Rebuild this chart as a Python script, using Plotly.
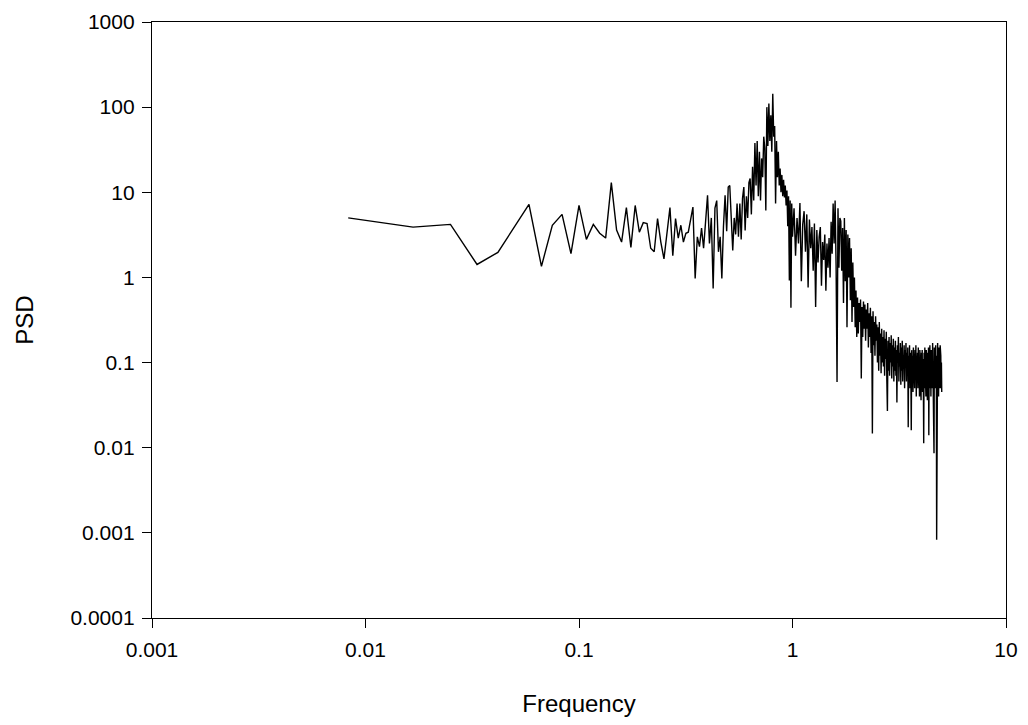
import plotly.graph_objects as go

# Frequency grid, 0.0083 .. 1.0 (step 1/120)
freq_low = [
    0.0083, 0.0167, 0.025, 0.0333, 0.0417, 0.05, 0.0583, 0.0667, 0.075, 0.0833, 0.0917, 0.1,
    0.1083, 0.1167, 0.125, 0.1333, 0.1417, 0.15, 0.1583, 0.1667, 0.175, 0.1833, 0.1917, 0.2,
    0.2083, 0.2167, 0.225, 0.2333, 0.2417, 0.25, 0.2583, 0.2667, 0.275, 0.2833, 0.2917, 0.3,
    0.3083, 0.3167, 0.325, 0.3333, 0.3417, 0.35, 0.3583, 0.3667, 0.375, 0.3833, 0.3917, 0.4,
    0.4083, 0.4167, 0.425, 0.4333, 0.4417, 0.45, 0.4583, 0.4667, 0.475, 0.4833, 0.4917, 0.5,
    0.5083, 0.5167, 0.525, 0.5333, 0.5417, 0.55, 0.5583, 0.5667, 0.575, 0.5833, 0.5917, 0.6,
    0.6083, 0.6167, 0.625, 0.6333, 0.6417, 0.65, 0.6583, 0.6667, 0.675, 0.6833, 0.6917, 0.7,
    0.7083, 0.7167, 0.725, 0.7333, 0.7417, 0.75, 0.7583, 0.7667, 0.775, 0.7833, 0.7917, 0.8,
    0.8083, 0.8167, 0.825, 0.8333, 0.8417, 0.85, 0.8583, 0.8667, 0.875, 0.8833, 0.8917, 0.9,
    0.9083, 0.9167, 0.925, 0.9333, 0.9417, 0.95, 0.9583, 0.9667, 0.975, 0.9833, 0.9917, 1.0,
]
psd_low = [
    5.0, 3.9, 4.2, 1.42, 1.97, 3.9, 7.2, 1.35, 4.1, 5.5, 1.9, 7.0,
    2.8, 4.2, 3.3, 2.9, 13.0, 3.6, 2.6, 6.6, 2.25, 7.0, 3.4, 4.4,
    4.3, 2.2, 2.0, 4.9, 2.6, 1.65, 3.5, 6.6, 1.8, 4.9, 2.9, 4.1,
    2.6, 3.3, 3.4, 5.0, 6.7, 0.97, 3.0, 2.3, 3.8, 2.2, 4.5, 9.2,
    2.5, 5.0, 0.74, 6.5, 8.0, 2.0, 3.0, 0.97, 4.0, 9.2, 3.5, 11.5,
    12.0, 4.0, 2.07, 5.0, 3.2, 7.4, 3.0, 7.4, 2.8, 8.5, 11.5, 3.56,
    9.0, 5.0, 13.0, 14.5, 5.5, 20.0, 8.0, 38.0, 12.0, 40.0, 9.0, 30.0,
    8.0, 25.0, 15.0, 45.0, 33.0, 6.1, 100.0, 35.0, 110.0, 40.0, 80.0, 30.0,
    144.0, 45.0, 60.0, 7.4, 40.0, 15.0, 30.0, 12.0, 19.0, 10.0, 16.0, 9.0,
    14.0, 8.7, 12.0, 7.0, 10.5, 4.0, 9.0, 0.92, 8.0, 0.44, 7.4, 3.0,
]

# Frequency grid, 1.0167 .. 5.0 (step 1/60)
freq_high = [
    1.0167, 1.0333, 1.05, 1.0667, 1.0833, 1.1, 1.1167, 1.1333, 1.15, 1.1667, 1.1833, 1.2,
    1.2167, 1.2333, 1.25, 1.2667, 1.2833, 1.3, 1.3167, 1.3333, 1.35, 1.3667, 1.3833, 1.4,
    1.4167, 1.4333, 1.45, 1.4667, 1.4833, 1.5, 1.5167, 1.5333, 1.55, 1.5667, 1.5833, 1.6,
    1.6167, 1.6333, 1.65, 1.6667, 1.6833, 1.7, 1.7167, 1.7333, 1.75, 1.7667, 1.7833, 1.8,
    1.8167, 1.8333, 1.85, 1.8667, 1.8833, 1.9, 1.9167, 1.9333, 1.95, 1.9667, 1.9833, 2.0,
    2.0167, 2.0333, 2.05, 2.0667, 2.0833, 2.1, 2.1167, 2.1333, 2.15, 2.1667, 2.1833, 2.2,
    2.2167, 2.2333, 2.25, 2.2667, 2.2833, 2.3, 2.3167, 2.3333, 2.35, 2.3667, 2.3833, 2.4,
    2.4167, 2.4333, 2.45, 2.4667, 2.4833, 2.5, 2.5167, 2.5333, 2.55, 2.5667, 2.5833, 2.6,
    2.6167, 2.6333, 2.65, 2.6667, 2.6833, 2.7, 2.7167, 2.7333, 2.75, 2.7667, 2.7833, 2.8,
    2.8167, 2.8333, 2.85, 2.8667, 2.8833, 2.9, 2.9167, 2.9333, 2.95, 2.9667, 2.9833, 3.0,
    3.0167, 3.0333, 3.05, 3.0667, 3.0833, 3.1, 3.1167, 3.1333, 3.15, 3.1667, 3.1833, 3.2,
    3.2167, 3.2333, 3.25, 3.2667, 3.2833, 3.3, 3.3167, 3.3333, 3.35, 3.3667, 3.3833, 3.4,
    3.4167, 3.4333, 3.45, 3.4667, 3.4833, 3.5, 3.5167, 3.5333, 3.55, 3.5667, 3.5833, 3.6,
    3.6167, 3.6333, 3.65, 3.6667, 3.6833, 3.7, 3.7167, 3.7333, 3.75, 3.7667, 3.7833, 3.8,
    3.8167, 3.8333, 3.85, 3.8667, 3.8833, 3.9, 3.9167, 3.9333, 3.95, 3.9667, 3.9833, 4.0,
    4.0167, 4.0333, 4.05, 4.0667, 4.0833, 4.1, 4.1167, 4.1333, 4.15, 4.1667, 4.1833, 4.2,
    4.2167, 4.2333, 4.25, 4.2667, 4.2833, 4.3, 4.3167, 4.3333, 4.35, 4.3667, 4.3833, 4.4,
    4.4167, 4.4333, 4.45, 4.4667, 4.4833, 4.5, 4.5167, 4.5333, 4.55, 4.5667, 4.5833, 4.6,
    4.6167, 4.6333, 4.65, 4.6667, 4.6833, 4.7, 4.7167, 4.7333, 4.75, 4.7667, 4.7833, 4.8,
    4.8167, 4.8333, 4.85, 4.8667, 4.8833, 4.9, 4.9167, 4.9333, 4.95, 4.9667, 4.9833, 5.0,
]
psd_high = [
    6.5, 1.8, 5.0, 2.5, 7.5, 0.9, 4.2, 6.0, 2.0, 5.5,
    0.76, 4.8, 2.2, 3.9, 1.2, 4.3, 0.45, 3.6, 1.5, 3.0,
    3.9, 0.8, 2.6, 1.6, 3.2, 0.7, 2.5, 1.3, 2.9, 1.0,
    4.5, 1.9, 7.4, 2.5, 8.0, 1.4, 0.059, 6.5, 1.3, 5.0,
    4.6, 1.2, 3.8, 0.5, 5.0, 0.9, 3.6, 0.26, 3.2, 1.0,
    2.9, 0.54, 2.2, 0.3, 1.5, 0.45, 1.0, 0.26, 0.7, 0.2,
    0.58, 0.22, 0.5, 0.3, 0.55, 0.065, 0.45, 0.2, 0.52, 0.25,
    0.48, 0.18, 0.42, 0.25, 0.5, 0.15, 0.38, 0.2, 0.44, 0.13,
    0.35, 0.0147, 0.4, 0.16, 0.3, 0.12, 0.35, 0.18, 0.28, 0.1,
    0.26, 0.08, 0.3, 0.12, 0.22, 0.075, 0.25, 0.1, 0.2, 0.09,
    0.24, 0.07, 0.19, 0.11, 0.23, 0.06, 0.027, 0.18, 0.08, 0.2,
    0.07, 0.17, 0.1, 0.21, 0.065, 0.16, 0.09, 0.19, 0.06, 0.15,
    0.08, 0.18, 0.07, 0.14, 0.034, 0.16, 0.1, 0.2, 0.06, 0.13,
    0.09, 0.17, 0.055, 0.15, 0.08, 0.18, 0.06, 0.12, 0.1, 0.16,
    0.05, 0.14, 0.09, 0.17, 0.06, 0.13, 0.08, 0.15, 0.0174, 0.12,
    0.07, 0.16, 0.05, 0.13, 0.09, 0.016, 0.14, 0.06, 0.12, 0.045,
    0.15, 0.08, 0.11, 0.05, 0.14, 0.07, 0.16, 0.04, 0.12, 0.09,
    0.13, 0.05, 0.15, 0.06, 0.1, 0.04, 0.14, 0.08, 0.12, 0.036,
    0.13, 0.06, 0.14, 0.045, 0.11, 0.07, 0.0113, 0.13, 0.05, 0.15,
    0.06, 0.12, 0.04, 0.14, 0.08, 0.1, 0.036, 0.13, 0.07, 0.15,
    0.014, 0.12, 0.05, 0.16, 0.06, 0.11, 0.04, 0.14, 0.08, 0.13,
    0.05, 0.17, 0.07, 0.12, 0.04, 0.0086, 0.15, 0.06, 0.13, 0.05,
    0.16, 0.07, 0.12, 0.00083, 0.14, 0.05, 0.17, 0.06, 0.11, 0.04,
    0.15, 0.06, 0.13, 0.05, 0.16, 0.07, 0.12, 0.05, 0.1, 0.045,
]

x_ticks = [0.001, 0.01, 0.1, 1, 10]
x_labels = ["0.001", "0.01", "0.1", "1", "10"]
y_ticks = [0.0001, 0.001, 0.01, 0.1, 1, 10, 100, 1000]
y_labels = ["0.0001", "0.001", "0.01", "0.1", "1", "10", "100", "1000"]

assert len(freq_low) == len(psd_low)
assert len(freq_high) == len(psd_high)

freq = freq_low + freq_high
psd = psd_low + psd_high

FONT = "Arial, Liberation Sans, Helvetica, sans-serif"

fig = go.Figure()
fig.add_trace(go.Scatter(
    x=freq, y=psd, mode="lines",
    line=dict(color="black", width=1.4),
    showlegend=False,
))

axis_common = dict(
    type="log",
    showgrid=False,
    zeroline=False,
    showline=True,
    linecolor="black",
    linewidth=1.3,
    mirror=True,
    ticks="outside",
    ticklen=9,
    tickwidth=1,
    tickcolor="black",
    automargin=False,
    tickfont=dict(family=FONT, size=21, color="black"),
)

fig.update_layout(
    width=1012, height=709,
    paper_bgcolor="white", plot_bgcolor="white",
    margin=dict(l=144, r=14, t=14, b=99),
    font=dict(family=FONT, size=21, color="black"),
    xaxis=dict(
        axis_common,
        range=[-3, 1],
        tickvals=x_ticks, ticktext=x_labels,
        ticklabelstandoff=4,
        title=dict(text="Frequency", font=dict(family=FONT, size=24, color="black"), standoff=38),
    ),
    yaxis=dict(
        axis_common,
        range=[-4, 3],
        tickvals=y_ticks, ticktext=y_labels,
        ticklabelstandoff=3,
        title=dict(text="PSD", font=dict(family=FONT, size=24, color="black"), standoff=30),
    ),
)

fig.write_html("out.html")
